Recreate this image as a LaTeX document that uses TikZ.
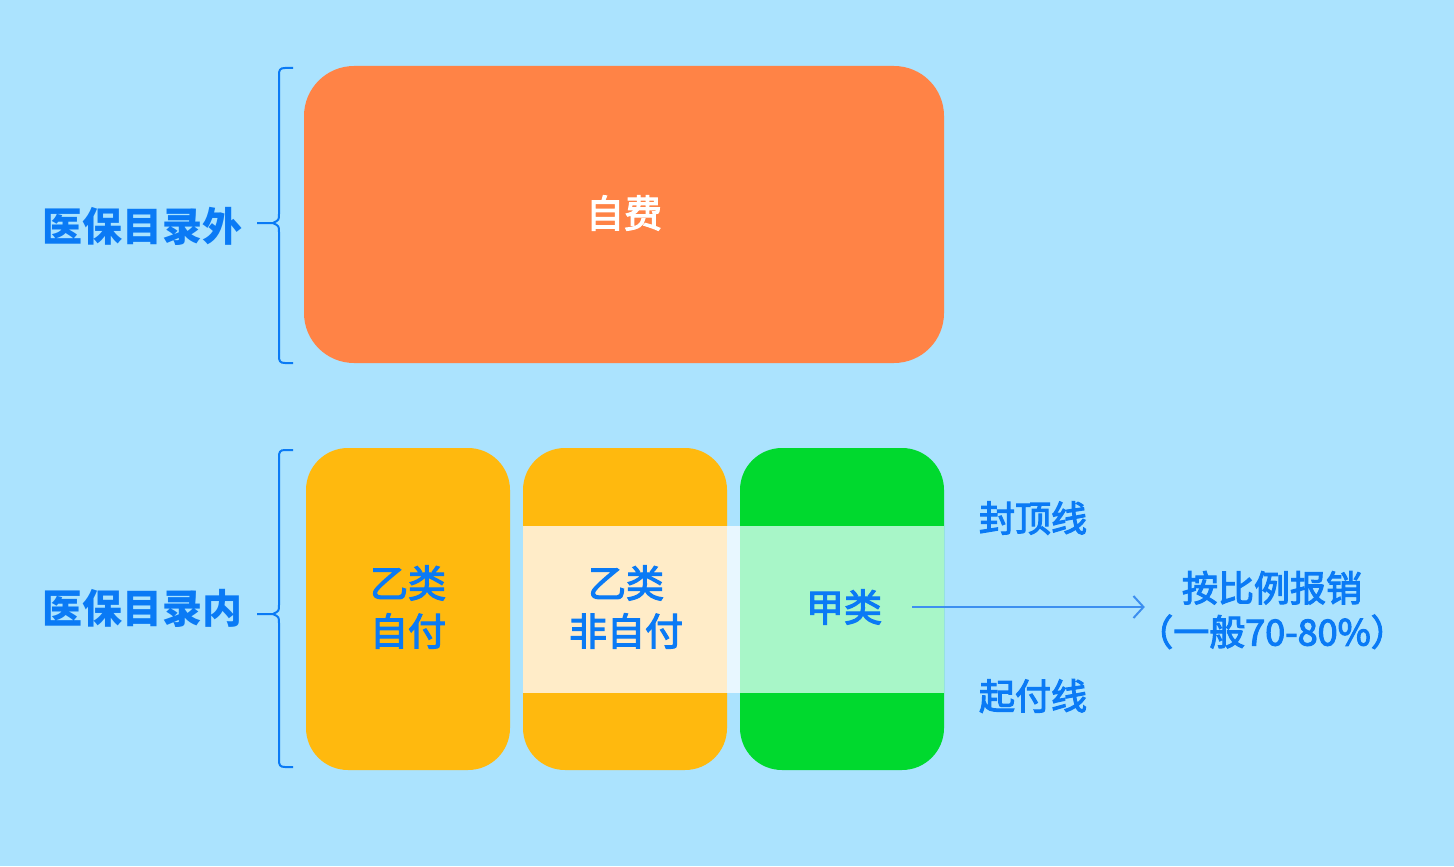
\documentclass[tikz,border=0pt]{standalone}
\usepackage{fontspec}
\setmainfont{Noto Sans CJK SC}
\newfontfamily\medfont{Noto Sans CJK SC}[RawFeature={embolden=3}]
\usetikzlibrary{arrows,arrows.meta}
\tikzset{
txt/.style={text={rgb, 255:red, 10; green, 122; blue, 245 },inner sep=1pt,align=center,font=\medfont\fontsize{19pt}{24pt}\selectfont},
side/.style={txt,font=\fontsize{20pt}{24pt}\selectfont\bfseries},
note/.style={txt,font=\medfont\fontsize{18pt}{22pt}\selectfont},
brace/.style={draw={rgb, 255:red, 10; green, 122; blue, 245 },line width=1pt},
}
\begin{document}
\begin{tikzpicture}[x=0.5pt,y=0.5pt,yscale=-1,xscale=1]
%set diagram left start at 0, and has height of 866
\fill [color={rgb, 255:red, 171; green, 227; blue, 254 }] (0,0) rectangle (1454,866) ;

%Shape: Rounded Rect [id:zifeibox]
\fill [color={rgb, 255:red, 255; green, 131; blue, 70 }][rounded corners=25pt] (304,66) rectangle (944,363) ;
%Shape: Rounded Rect [id:yibox]
\fill [color={rgb, 255:red, 255; green, 185; blue, 14 }][rounded corners=21pt] (306,448) rectangle (510,770) ;
%Shape: Rounded Rect [id:yifeibox]
\fill [color={rgb, 255:red, 255; green, 185; blue, 14 }][rounded corners=21pt] (523,448) rectangle (727,770) ;
%Shape: Rounded Rect [id:jiabox]
\fill [color={rgb, 255:red, 0; green, 217; blue, 46 }][rounded corners=21pt] (740,448) rectangle (944,770) ;

%Shape: Band between the two lines
\fill [color={rgb, 255:red, 255; green, 236; blue, 200 }] (523,526) rectangle (727,693) ;
\fill [color={rgb, 255:red, 232; green, 247; blue, 255 }] (727,526) rectangle (740,693) ;
\fill [color={rgb, 255:red, 168; green, 246; blue, 200 }] (740,526) rectangle (944,693) ;

%Shape: Brace [id:outbrace]
\draw [brace] (293,68) -- (285,68) .. controls (280,68) and (279,70) .. (279,75) -- (279,214) .. controls (279,220) .. (273,223) -- (257,223) ;
\draw [brace] (273,223) .. controls (279,226) .. (279,232) -- (279,356) .. controls (279,361) and (280,363) .. (285,363) -- (293,363) ;
%Shape: Brace [id:inbrace]
\draw [brace] (293,450) -- (285,450) .. controls (280,450) and (279,452) .. (279,457) -- (279,605) .. controls (279,611) .. (273,614) -- (257,614) ;
\draw [brace] (273,614) .. controls (279,617) .. (279,623) -- (279,760) .. controls (279,765) and (280,767) .. (285,767) -- (293,767) ;

%Text
\node [side] (outside) at (142,226) {医保目录外};
\node [side] (inside) at (142,608) {医保目录内};
\node [txt,text=white] (zifei) at (624,213) {自费};
\node [txt] (yizifu) at (408,607) {乙类\\自付};
\node [txt] (yifei) at (626,607) {乙类\\非自付};
\node [txt] (jia) at (844,607) {甲类};
\node [note] (cap) at (1033,518) {封顶线};
\node [note] (deduct) at (1033,696) {起付线};
\node [note] (ratio) at (1272,610) {按比例报销\\（一般70-80\%）};

%Straight Lines [id:toratio]
\draw [color={rgb, 255:red, 61; green, 143; blue, 240 },line width=1pt,-{Straight Barb[length=5pt,width=11pt]},shorten <=14pt,shorten >=-5pt] (jia.east) -- (jia.east -| ratio.west) ;

\end{tikzpicture}
\end{document}
